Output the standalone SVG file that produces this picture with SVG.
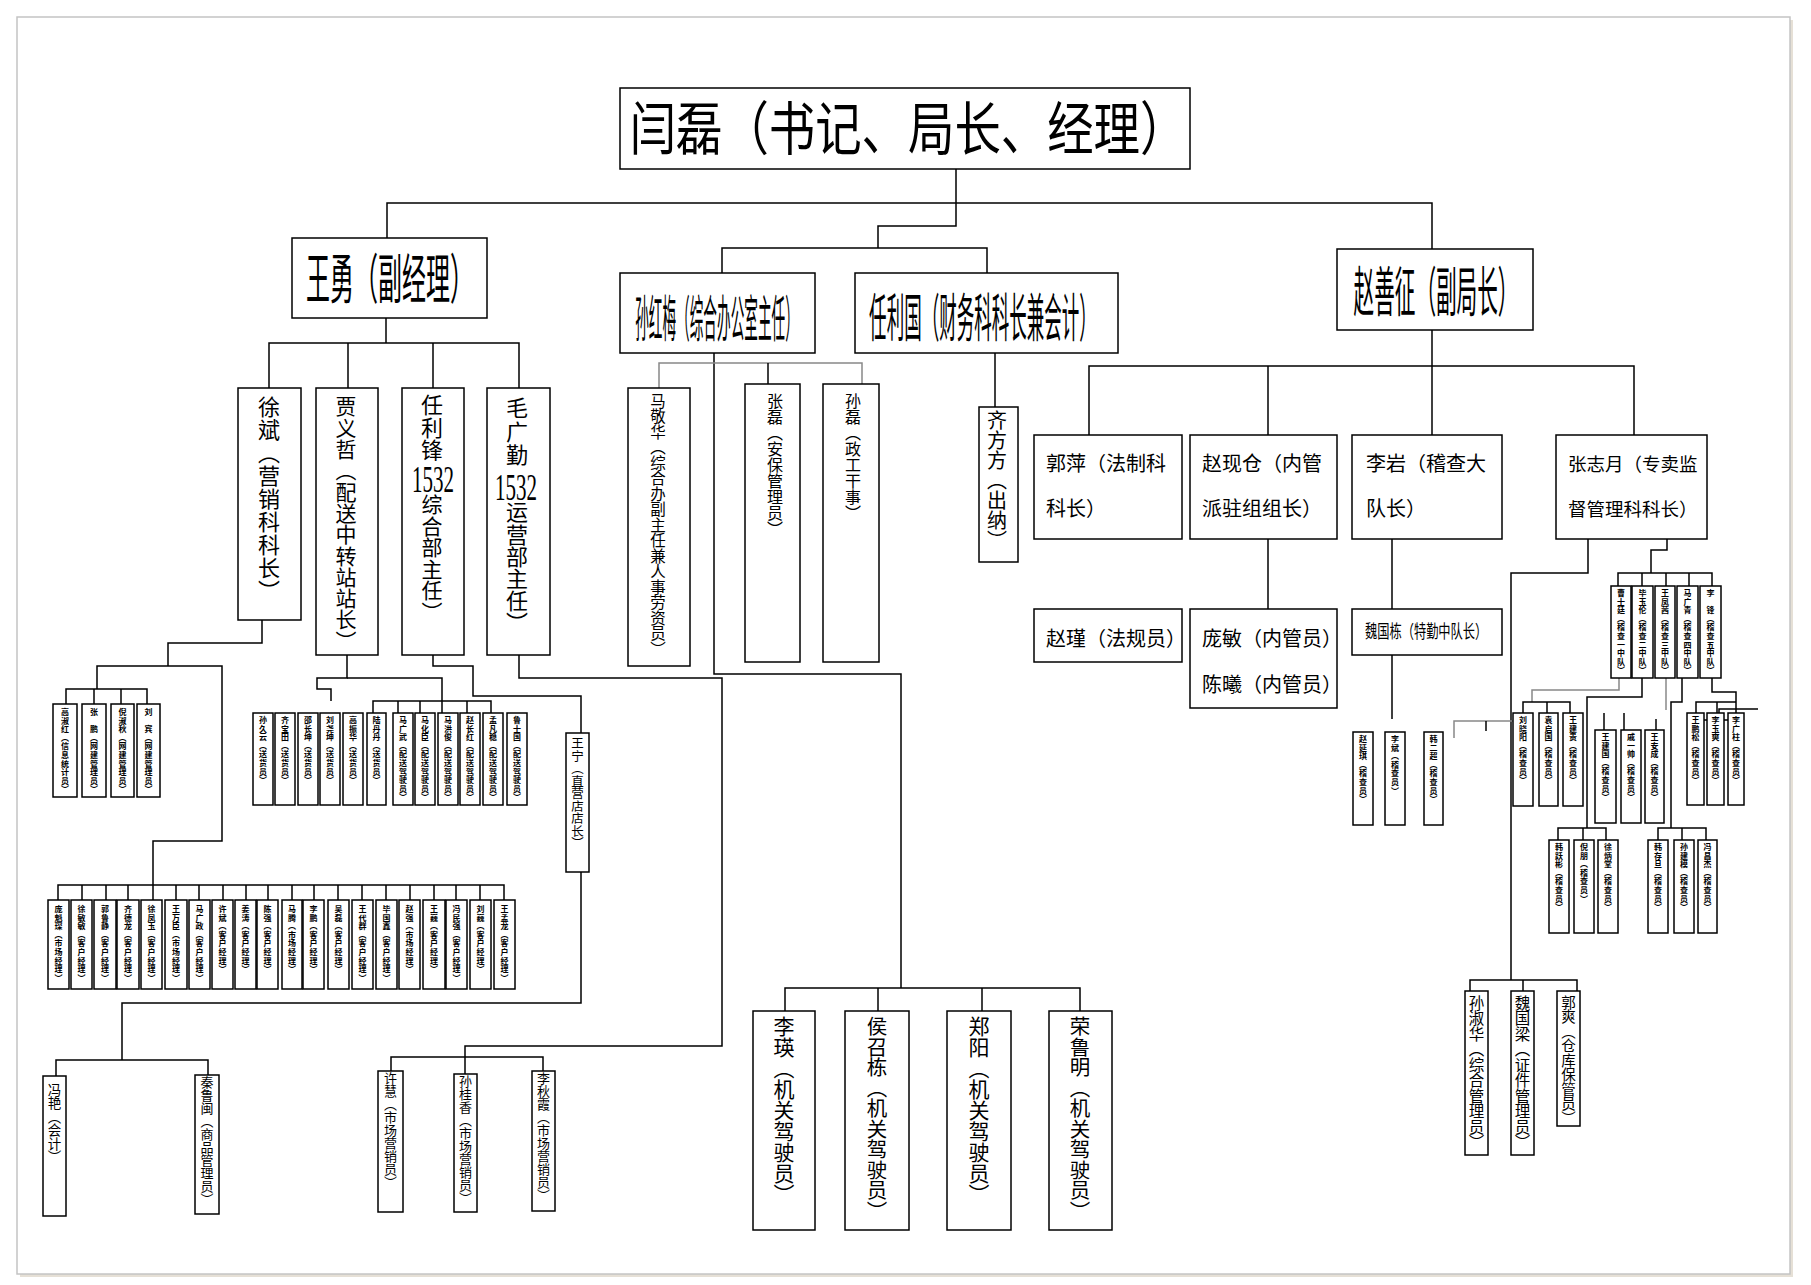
<svg xmlns="http://www.w3.org/2000/svg" width="1811" height="1285" viewBox="0 0 1811 1285">
<style>
.b{fill:#fff;stroke:#000;stroke-width:1.5}
.c path{fill:none;stroke:#000;stroke-width:1.5}
.c path.g{stroke:#888}
text{font-family:"Noto Sans CJK SC","Noto Sans",sans-serif;fill:#000}
.v{writing-mode:vertical-rl;text-orientation:upright}
.s{font-size:8px;font-weight:bold;letter-spacing:0.6px}
.h{font-size:20px}
.n{font-family:"Liberation Serif",serif}
</style>
<rect x="0" y="0" width="1811" height="1285" fill="#fff"/>
<rect x="20" y="20" width="1773" height="1257" fill="#e6e0d6"/>
<rect x="17" y="17" width="1773" height="1257" fill="#fff" stroke="#c4c4c4" stroke-width="1.5"/>
<g class="c" id="connectors">
<path d="M956,169 V226 H878 V248"/>
<path d="M722,273 V248 H987 V273"/>
<path d="M387,238 V203 H1432 V249"/>
<path d="M386,318 V343"/>
<path d="M269,388 V343 H519 V388"/>
<path d="M348,343 V388"/><path d="M433,343 V388"/>
<path d="M714,353 V674 H901 V988"/>
<path d="M785,1011 V988 H1080 V1011"/>
<path d="M878,988 V1011"/><path d="M982,988 V1011"/>
<path class="g" d="M659,388 V363 H862 V384"/>
<path d="M768,363 V384"/>
<path d="M995,353 V407"/>
<path d="M1432,330 V435"/>
<path d="M1089,435 V366 H1634 V435"/>
<path d="M1268,366 V435"/>
<path d="M1268,539 V609"/>
<path d="M1392,539 V609"/>
<path d="M1392,655 V719"/>
<path d="M1667,539 V550 H1651 V573"/>
<path d="M1618,586 V573 H1712 V586"/>
<path d="M1642,573 V586"/><path d="M1666,573 V586"/><path d="M1689,573 V586"/>
<path d="M1588,539 V573 H1511 V980"/>
<path d="M1470,993 V980 H1577 V993"/>
<path d="M1523,980 V993"/>
<path class="g" d="M1619,678 V690 H1532 V702"/>
<path d="M1523,713 V702 H1570 V713"/>
<path d="M1547,702 V713"/>
<path d="M1642,678 V697 H1587 V828"/>
<path d="M1558,840 V828 H1606 V840"/>
<path d="M1583,828 V840"/>
<path class="g" d="M1666,678 V710"/>
<path d="M1604,713 V730"/><path d="M1624,713 V730"/><path d="M1656,719 V730"/>
<path d="M1682,678 V702 H1671 V828"/>
<path d="M1658,840 V828 H1706 V840"/>
<path d="M1682,828 V840"/>
<path d="M1712,678 V692 H1736 V713"/>
<path d="M1696,713 V702 H1736"/>
<path d="M1717,702 V713"/>
<path d="M1719,732 V709 H1758"/>
<path d="M1697,720 H1742 V733"/>
<path class="g" d="M1454,738 V721 H1523"/>
<path d="M1486,721 V731"/>
<path d="M262,620 V643 H168 V666"/>
<path d="M66,704 V689 H147 V704"/>
<path d="M94,689 V704"/><path d="M121,689 V704"/>
<path d="M97,689 V666 H222 V841 H153 V885"/>
<path d="M58,900 V885 H504 V900"/>
<path d="M82,885 V900 M106,885 V900 M128,885 V900 M153,885 V900 M176,885 V900 M199,885 V900 M223,885 V900 M246,885 V900 M268,885 V900 M292,885 V900 M314,885 V900 M338,885 V900 M362,885 V900 M386,885 V900 M410,885 V900 M434,885 V900 M456,885 V900 M480,885 V900"/>
<path d="M347,655 V678 H317 V689 H331 V701"/>
<path d="M347,678 H442 V713"/>
<path d="M373,713 V701 H491 V713"/>
<path d="M398,701 V713 M420,701 V713 M467,701 V713"/>
<path d="M433,655 V666 H473 V696 H581 V733"/>
<path d="M581,872 V1003 H122 V1060"/>
<path d="M56,1076 V1060 H208 V1075"/>
<path d="M519,655 V678 H722 V1046 H465 V1074"/>
<path d="M391,1071 V1057 H543 V1071"/>
</g>

<g id="n-yanlei"><rect class="b" x="620" y="88" width="570" height="81"/>
<text transform="translate(908,150) scale(0.8,1)" font-size="58" text-anchor="middle">闫磊（书记、局长、经理）</text></g>
<g id="n-wangyong"><rect class="b" x="292" y="238" width="195" height="80"/>
<text transform="translate(390,299) scale(0.444,1)" font-size="54" text-anchor="middle">王勇（副经理）</text></g>
<g id="n-sunhongmei"><rect class="b" x="620" y="273" width="195" height="80"/>
<text transform="translate(717,337) scale(0.273,1)" font-size="50" text-anchor="middle">孙红梅（综合办公室主任）</text></g>
<g id="n-renliguo"><rect class="b" x="855" y="273" width="263" height="80"/>
<text transform="translate(983,337) scale(0.337,1)" font-size="52" text-anchor="middle">任利国（财务科科长兼会计）</text></g>
<g id="n-zhaoshanzheng"><rect class="b" x="1337" y="249" width="196" height="81"/>
<text transform="translate(1436,312) scale(0.382,1)" font-size="54" text-anchor="middle">赵善征（副局长）</text></g>

<g id="n-xubin"><rect class="b" x="238" y="388" width="63" height="232"/>
<text class="v" x="269" y="396" font-size="22" letter-spacing="1">徐斌（营销科科长）</text></g>
<g id="n-jiayizhe"><rect class="b" x="316" y="388" width="62" height="267"/>
<text class="v" x="346" y="396" font-size="21" letter-spacing="0.3">贾义哲（配送中转站站长）</text></g>
<g id="n-renlifeng"><rect class="b" x="402" y="388" width="62" height="267"/>
<text class="v" x="432" y="394" font-size="22" letter-spacing="0.5">任利锋</text>
<text class="n" x="433" y="492" font-size="38" text-anchor="middle" textLength="42" lengthAdjust="spacingAndGlyphs">1532</text>
<text class="v" x="432" y="494" font-size="21" letter-spacing="0.5">综合部主任）</text></g>
<g id="n-maoguangqin"><rect class="b" x="487" y="388" width="63" height="267"/>
<text class="v" x="517" y="397" font-size="22" letter-spacing="1.5">毛广勤</text>
<text class="n" x="516" y="500" font-size="38" text-anchor="middle" textLength="42" lengthAdjust="spacingAndGlyphs">1532</text>
<text class="v" x="517" y="501" font-size="22" letter-spacing="0.2">运营部主任）</text></g>

<g id="n-majinghua"><rect class="b" x="628" y="388" width="62" height="278"/>
<text class="v" x="658" y="393" font-size="15.5">马敬华（综合办副主任兼人事劳资员）</text></g>
<g id="n-zhanglei"><rect class="b" x="745" y="384" width="55" height="278"/>
<text class="v" x="775" y="393" font-size="16">张磊（安保管理员）</text></g>
<g id="n-sunlei"><rect class="b" x="823" y="384" width="56" height="278"/>
<text class="v" x="853" y="393" font-size="16">孙磊（政工干事）</text></g>
<g id="n-qifangfang"><rect class="b" x="979" y="407" width="39" height="155"/>
<text class="v" x="997" y="410" font-size="20">齐方方（出纳）</text></g>

<g id="n-guoping"><rect class="b" x="1034" y="435" width="148" height="104"/>
<text class="h" x="1046" y="471">郭萍（法制科</text><text class="h" x="1046" y="516">科长）</text></g>
<g id="n-zhaoxiancang"><rect class="b" x="1190" y="435" width="147" height="104"/>
<text class="h" x="1202" y="471">赵现仓（内管</text><text class="h" x="1202" y="516">派驻组组长）</text></g>
<g id="n-liyan"><rect class="b" x="1352" y="435" width="150" height="104"/>
<text class="h" x="1366" y="471">李岩（稽查大</text><text class="h" x="1366" y="516">队长）</text></g>
<g id="n-zhangzhiyue"><rect class="b" x="1556" y="435" width="151" height="104"/>
<text x="1568" y="471" font-size="18.5">张志月（专卖监</text><text x="1568" y="516" font-size="18.5">督管理科科长）</text></g>
<g id="n-zhaojin"><rect class="b" x="1034" y="609" width="148" height="53"/>
<text class="h" x="1046" y="646">赵瑾（法规员）</text></g>
<g id="n-pangmin"><rect class="b" x="1190" y="609" width="147" height="99"/>
<text class="h" x="1202" y="646">庞敏（内管员）</text><text class="h" x="1202" y="692">陈曦（内管员）</text></g>
<g id="n-weiguodong"><rect class="b" x="1352" y="609" width="150" height="46"/>
<text transform="translate(1365,638) scale(0.68,1)" font-size="18">魏国栋（特勤中队长）</text></g>

<g id="n-wangning"><rect class="b" x="566" y="733" width="23" height="139"/>
<text class="v" x="577.5" y="737" font-size="12.5">王宁（直营店店长）</text></g>

<g id="n-drivers">
<g id="n-liying"><rect class="b" x="753" y="1011" width="62" height="219"/>
<text class="v" x="784" y="1016" font-size="21">李瑛（机关驾驶员）</text></g>
<g id="n-houzhaodong"><rect class="b" x="845" y="1011" width="64" height="219"/>
<text class="v" x="877" y="1016" font-size="20.5">侯召栋（机关驾驶员）</text></g>
<g id="n-zhengyang"><rect class="b" x="947" y="1011" width="64" height="219"/>
<text class="v" x="979" y="1016" font-size="21">郑阳（机关驾驶员）</text></g>
<g id="n-rongluming"><rect class="b" x="1049" y="1011" width="63" height="219"/>
<text class="v" x="1080" y="1016" font-size="20.5">荣鲁明（机关驾驶员）</text></g>
</g>

<g id="n-fengyan"><rect class="b" x="43" y="1076" width="23" height="140"/>
<text class="v" x="54.5" y="1083" font-size="13.5">冯艳（会计）</text></g>
<g id="n-qinlumin"><rect class="b" x="195" y="1075" width="24" height="139"/>
<text class="v" x="207" y="1076" font-size="13">秦鲁闽（商品管理员）</text></g>
<g id="n-xuhui"><rect class="b" x="378" y="1071" width="25" height="141"/>
<text class="v" x="390.5" y="1072" font-size="13">许慧（市场营销员）</text></g>
<g id="n-sunguixiang"><rect class="b" x="454" y="1074" width="23" height="138"/>
<text class="v" x="465.5" y="1075" font-size="13">孙桂香（市场营销员）</text></g>
<g id="n-liqiuxia"><rect class="b" x="532" y="1071" width="23" height="140"/>
<text class="v" x="543.5" y="1072" font-size="13">李秋霞（市场营销员）</text></g>

<g id="n-sunshuhua"><rect class="b" x="1465" y="991" width="23" height="164"/>
<text class="v" x="1476.5" y="995" font-size="15.5">孙淑华（综合管理员）</text></g>
<g id="n-weiguoliang"><rect class="b" x="1511" y="991" width="23" height="164"/>
<text class="v" x="1522.5" y="995" font-size="15.5">魏国梁（证件管理员）</text></g>
<g id="n-guoshuang"><rect class="b" x="1557" y="991" width="23" height="135"/>
<text class="v" x="1568.5" y="995" font-size="14.5">郭爽（仓库保管员）</text></g>

<g id="n-left4">
<g id="n-s1"><rect class="b" x="53" y="704" width="24" height="93"/><text class="v s" x="65" y="708">高淑红（信息统计员）</text></g>
<g id="n-s2"><rect class="b" x="82" y="704" width="24" height="93"/><text class="v s" x="94" y="708">张　鹏（网建管理员）</text></g>
<g id="n-s3"><rect class="b" x="111" y="704" width="23" height="93"/><text class="v s" x="122.5" y="708">倪淑秋（网建管理员）</text></g>
<g id="n-s4"><rect class="b" x="137" y="704" width="23" height="93"/><text class="v s" x="148.5" y="708">刘　宾（网建管理员）</text></g>
</g>

<g id="n-mid12">
<g id="n-m1"><rect class="b" x="253" y="713" width="20" height="92"/><text class="v s" x="263" y="716">孙久云（送货员）</text></g>
<g id="n-m2"><rect class="b" x="275" y="713" width="20" height="92"/><text class="v s" x="285" y="716">齐宝田（送货员）</text></g>
<g id="n-m3"><rect class="b" x="298" y="713" width="20" height="92"/><text class="v s" x="308" y="716">邵长坤（送货员）</text></g>
<g id="n-m4"><rect class="b" x="320" y="713" width="20" height="92"/><text class="v s" x="330" y="716">刘尧坤（送货员）</text></g>
<g id="n-m5"><rect class="b" x="343" y="713" width="20" height="92"/><text class="v s" x="353" y="716">高振华（送货员）</text></g>
<g id="n-m6"><rect class="b" x="367" y="713" width="19" height="92"/><text class="v s" x="376.5" y="716">陆丹丹（送货员）</text></g>
<g id="n-m7"><rect class="b" x="393" y="713" width="20" height="92"/><text class="v s" x="403" y="716">马广武（配送驾驶员）</text></g>
<g id="n-m8"><rect class="b" x="415" y="713" width="20" height="92"/><text class="v s" x="425" y="716">马化臣（配送驾驶员）</text></g>
<g id="n-m9"><rect class="b" x="438" y="713" width="20" height="92"/><text class="v s" x="448" y="716">马洪俊（配送驾驶员）</text></g>
<g id="n-m10"><rect class="b" x="460" y="713" width="20" height="92"/><text class="v s" x="470" y="716">赵长红（配送驾驶员）</text></g>
<g id="n-m11"><rect class="b" x="483" y="713" width="20" height="92"/><text class="v s" x="493" y="716">孟凡稳（配送驾驶员）</text></g>
<g id="n-m12"><rect class="b" x="507" y="713" width="20" height="92"/><text class="v s" x="517" y="716">鲁士国（配送驾驶员）</text></g>
</g>

<g id="n-bottom20">
<g id="n-b1"><rect class="b" x="48" y="900" width="21" height="89"/><text class="v s" x="58.5" y="905">庞魁琛（市场经理）</text></g>
<g id="n-b2"><rect class="b" x="71" y="900" width="21" height="89"/><text class="v s" x="81.5" y="905">徐敏敏（客户经理）</text></g>
<g id="n-b3"><rect class="b" x="94" y="900" width="22" height="89"/><text class="v s" x="105" y="905">郭鲁静（客户经理）</text></g>
<g id="n-b4"><rect class="b" x="117" y="900" width="22" height="89"/><text class="v s" x="128" y="905">齐德龙（客户经理）</text></g>
<g id="n-b5"><rect class="b" x="141" y="900" width="21" height="89"/><text class="v s" x="151.5" y="905">徐凤玉（客户经理）</text></g>
<g id="n-b6"><rect class="b" x="165" y="900" width="22" height="89"/><text class="v s" x="176" y="905">王万臣（市场经理）</text></g>
<g id="n-b7"><rect class="b" x="189" y="900" width="21" height="89"/><text class="v s" x="199.5" y="905">马广政（客户经理）</text></g>
<g id="n-b8"><rect class="b" x="212" y="900" width="21" height="89"/><text class="v s" x="222.5" y="905">许斌（客户经理）</text></g>
<g id="n-b9"><rect class="b" x="235" y="900" width="21" height="89"/><text class="v s" x="245.5" y="905">姜涛（客户经理）</text></g>
<g id="n-b10"><rect class="b" x="257" y="900" width="21" height="89"/><text class="v s" x="267.5" y="905">陈强（客户经理）</text></g>
<g id="n-b11"><rect class="b" x="282" y="900" width="20" height="89"/><text class="v s" x="292" y="905">马腾（市场经理）</text></g>
<g id="n-b12"><rect class="b" x="303" y="900" width="21" height="89"/><text class="v s" x="313.5" y="905">李鹏（客户经理）</text></g>
<g id="n-b13"><rect class="b" x="328" y="900" width="21" height="89"/><text class="v s" x="338.5" y="905">吴磊（客户经理）</text></g>
<g id="n-b14"><rect class="b" x="352" y="900" width="21" height="89"/><text class="v s" x="362.5" y="905">王代群（客户经理）</text></g>
<g id="n-b15"><rect class="b" x="376" y="900" width="21" height="89"/><text class="v s" x="386.5" y="905">毕国鑫（客户经理）</text></g>
<g id="n-b16"><rect class="b" x="399" y="900" width="21" height="89"/><text class="v s" x="409.5" y="905">赵强（市场经理）</text></g>
<g id="n-b17"><rect class="b" x="423" y="900" width="22" height="89"/><text class="v s" x="434" y="905">王巍（客户经理）</text></g>
<g id="n-b18"><rect class="b" x="446" y="900" width="21" height="89"/><text class="v s" x="456.5" y="905">冯民强（客户经理）</text></g>
<g id="n-b19"><rect class="b" x="470" y="900" width="21" height="89"/><text class="v s" x="480.5" y="905">刘巍（客户经理）</text></g>
<g id="n-b20"><rect class="b" x="494" y="900" width="21" height="89"/><text class="v s" x="504.5" y="905">王孟龙（客户经理）</text></g>
</g>

<g id="n-zhao3">
<g id="n-z1"><rect class="b" x="1353" y="732" width="20" height="93"/><text class="v s" x="1363" y="735">赵延琪（稽查员）</text></g>
<g id="n-z2"><rect class="b" x="1385" y="732" width="20" height="93"/><text class="v s" x="1395" y="735">李斌（稽查员）</text></g>
<g id="n-z3"><rect class="b" x="1424" y="732" width="19" height="93"/><text class="v s" x="1433.5" y="735">韩二超（稽查员）</text></g>
</g>

<g id="n-zhang5">
<g id="n-q1"><rect class="b" x="1611" y="586" width="20" height="92"/><text class="v s" x="1621" y="589">曹士廷（稽查一中队）</text></g>
<g id="n-q2"><rect class="b" x="1632" y="586" width="21" height="92"/><text class="v s" x="1642.5" y="589">毕玉伦（稽查二中队）</text></g>
<g id="n-q3"><rect class="b" x="1655" y="586" width="20" height="92"/><text class="v s" x="1665" y="589">王凤茜（稽查三中队）</text></g>
<g id="n-q4"><rect class="b" x="1677" y="586" width="21" height="92"/><text class="v s" x="1687.5" y="589">马广青（稽查四中队）</text></g>
<g id="n-q5"><rect class="b" x="1700" y="586" width="21" height="92"/><text class="v s" x="1710.5" y="589">李　锋（稽查五中队）</text></g>
</g>

<g id="n-insp">
<g id="n-i1"><rect class="b" x="1513" y="713" width="20" height="93"/><text class="v s" x="1523" y="716">刘晓阳（稽查员）</text></g>
<g id="n-i2"><rect class="b" x="1539" y="713" width="19" height="93"/><text class="v s" x="1548.5" y="716">袁启国（稽查员）</text></g>
<g id="n-i3"><rect class="b" x="1563" y="713" width="20" height="93"/><text class="v s" x="1573" y="716">王建贵（稽查员）</text></g>
<g id="n-i4"><rect class="b" x="1595" y="730" width="21" height="93"/><text class="v s" x="1605.5" y="733">王建国（稽查员）</text></g>
<g id="n-i5"><rect class="b" x="1621" y="730" width="20" height="93"/><text class="v s" x="1631" y="733">戚一帅（稽查员）</text></g>
<g id="n-i6"><rect class="b" x="1645" y="730" width="19" height="93"/><text class="v s" x="1654.5" y="733">王安成（稽查员）</text></g>
<g id="n-i7"><rect class="b" x="1687" y="713" width="17" height="92"/><text class="v s" x="1695.5" y="716">王鹏松（稽查员）</text></g>
<g id="n-i8"><rect class="b" x="1707" y="713" width="17" height="92"/><text class="v s" x="1715.5" y="716">李玉爽（稽查员）</text></g>
<g id="n-i9"><rect class="b" x="1728" y="713" width="16" height="92"/><text class="v s" x="1736" y="716">李广柱（稽查员）</text></g>
<g id="n-i10"><rect class="b" x="1549" y="840" width="20" height="93"/><text class="v s" x="1559" y="843">韩跃彬（稽查员）</text></g>
<g id="n-i11"><rect class="b" x="1574" y="840" width="20" height="93"/><text class="v s" x="1584" y="843">倪朋（稽查员）</text></g>
<g id="n-i12"><rect class="b" x="1598" y="840" width="20" height="93"/><text class="v s" x="1608" y="843">徐炳堂（稽查员）</text></g>
<g id="n-i13"><rect class="b" x="1648" y="840" width="20" height="93"/><text class="v s" x="1658" y="843">韩存旦（稽查员）</text></g>
<g id="n-i14"><rect class="b" x="1674" y="840" width="20" height="93"/><text class="v s" x="1684" y="843">孙建模（稽查员）</text></g>
<g id="n-i15"><rect class="b" x="1698" y="840" width="19" height="93"/><text class="v s" x="1707.5" y="843">冯昌杰（稽查员）</text></g>
</g>
</svg>
